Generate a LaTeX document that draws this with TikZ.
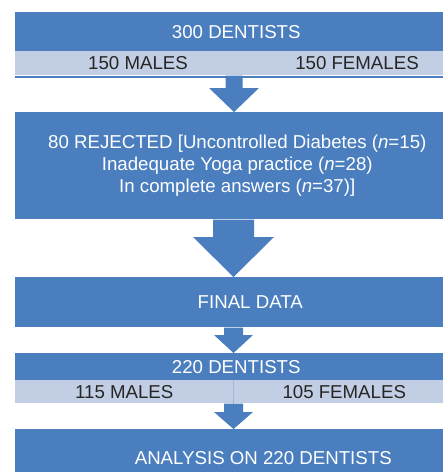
\documentclass[tikz,border=0pt]{standalone}
\usepackage{fontspec}
\setmainfont{Liberation Sans}
\usetikzlibrary{calc}
\definecolor{flowblue}{HTML}{4A7EBF}
\definecolor{bandblue}{HTML}{C2CEE4}
\definecolor{cellrule}{HTML}{A3B6D6}
\definecolor{darktext}{HTML}{262626}
\newdimen\pxu \pxu=0.75pt
% block arrow: start, tip, shaft half-width, head half-width, head length
\newcommand\flowarrow[5]{%
  \fill[flowblue] ($(#1)+(-#3,0)$) -- ($(#2)+(-#3,-#5)$) -- ($(#2)+(-#4,-#5)$)
    -- (#2) -- ($(#2)+(#4,-#5)$) -- ($(#2)+(#3,-#5)$) -- ($(#1)+(#3,0)$) -- cycle;}
\begin{document}
\begin{tikzpicture}[x=0.75pt,y=-0.75pt,
  panel/.style={fill=flowblue, draw=none, inner sep=0pt, anchor=north west,
    text=white, font=\fontsize{14}{16.5}\selectfont, align=center},
  band/.style={fill=bandblue, draw=none, inner sep=0pt, anchor=north west},
  bandtext/.style={text=darktext, inner sep=0pt, font=\fontsize{14}{16.5}\selectfont}]
\useasboundingbox (0,0) rectangle (443,472);
\clip (0,0) rectangle (443,472);

% first stage: total sample split by sex
\node[panel, minimum width=442\pxu, minimum height=39\pxu] (b1) at (15,12) {300 DENTISTS};
\node[band, minimum width=442\pxu, minimum height=24\pxu] (b1m) at (15,51) {};
\fill[flowblue] (b1m.south west) rectangle ($(b1m.south east)+(0,2)$);
\node[bandtext] (m1) at (138,63) {150 MALES};
\node[bandtext] (f1) at (357,63) {150 FEMALES};

% exclusions
\node[panel, minimum width=444\pxu, minimum height=107\pxu] (b2) at (15,112)
  {80 REJECTED [Uncontrolled Diabetes (\textit{n}=15)\\
   Inadequate Yoga practice (\textit{n}=28)\\
   In complete answers (\textit{n}=37)]};

% retained data
\node[panel, minimum width=470\pxu, minimum height=50\pxu] (b3) at (15,277) {FINAL DATA};

% final sample split by sex
\node[panel, minimum width=442\pxu, minimum height=27\pxu] (b4) at (15,353) {220 DENTISTS};
\node[band, minimum width=218\pxu, minimum height=23\pxu] (b4l) at (15,380) {};
\node[band, minimum width=222\pxu, minimum height=23\pxu] (b4r) at (233,380) {};
\draw[cellrule, line width=0.75pt] (b4l.north east) -- (b4l.south east);
\node[bandtext] (m4) at (b4l.center) {115 MALES};
\node[bandtext] (f4) at (b4r.center) {105 FEMALES};

% analysis
\node[panel, minimum width=496\pxu, minimum height=58\pxu] (b5) at (15,429) {ANALYSIS ON 220 DENTISTS};

% connecting block arrows
\coordinate (a1s) at (234,0 |- b1m.south);
\coordinate (a1e) at (234,0 |- b2.north);
\coordinate (a2s) at (233.5,0 |- b2.south);
\coordinate (a2e) at (233.5,0 |- b3.north);
\coordinate (a3s) at (233.5,0 |- b3.south);
\coordinate (a3e) at (233.5,0 |- b4.north);
\coordinate (a4s) at (233.5,0 |- b4l.south);
\coordinate (a4e) at (233.5,0 |- b5.north);
\flowarrow{a1s}{a1e}{8.5}{25}{24}
\flowarrow{a2s}{a2e}{20.5}{40.5}{40}
\flowarrow{a3s}{a3e}{9.5}{19.5}{18}
\flowarrow{a4s}{a4e}{9.5}{19.5}{17}
\end{tikzpicture}
\end{document}
